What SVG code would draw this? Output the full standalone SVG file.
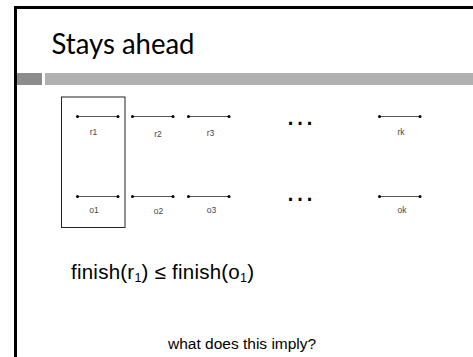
<svg xmlns="http://www.w3.org/2000/svg" width="473" height="357" viewBox="0 0 473 357">
  <style>
    .frame { fill: none; stroke: #000; stroke-width: 3; }
    .seg { stroke: #555; stroke-width: 1; }
    .dot { fill: #000; }
    .lbl { font-family: "Liberation Sans", Arial, sans-serif; font-size: 8.5px; fill: #444; text-anchor: middle; }
    .ell { font-family: "Liberation Sans", Arial, sans-serif; font-size: 30px; fill: #000; text-anchor: middle; }
    .body { font-family: "Liberation Sans", Arial, sans-serif; fill: #000; }
  </style>
  <defs>
    <g id="interval">
      <line class="seg" x1="0" y1="0" x2="40.5" y2="0"/>
      <circle class="dot" cx="0" cy="0" r="1.5"/>
      <circle class="dot" cx="40.5" cy="0" r="1.5"/>
    </g>
  </defs>
  <rect width="473" height="357" fill="#fff"/>

  <!-- slide frame and header bars -->
  <path class="frame" d="M15.5,357 V7.5 H473"/>
  <rect x="17" y="73" width="25" height="12" fill="#8c8c8c"/>
  <rect x="45" y="73" width="428" height="12" fill="#b0b0b0"/>
  <text x="51.5" y="53.5" font-family="Lato, sans-serif" font-size="28" textLength="143" lengthAdjust="spacingAndGlyphs" fill="#000">Stays ahead</text>

  <!-- highlight around the first pair -->
  <g id="pair-box">
    <rect x="61.5" y="97" width="63.5" height="130.5" fill="none" stroke="#222" stroke-width="1"/>
  </g>

  <g id="connectors">
    <use href="#interval" x="77.5" y="116.5"/>
    <use href="#interval" x="132.5" y="116.5"/>
    <use href="#interval" x="188.5" y="116.5"/>
    <use href="#interval" x="379.5" y="116.5"/>
    <use href="#interval" x="77.5" y="196.5"/>
    <use href="#interval" x="132.5" y="196.5"/>
    <use href="#interval" x="188.5" y="196.5"/>
    <use href="#interval" x="379.5" y="196.5"/>
  </g>

  <g id="r1"><text class="lbl" x="93.5" y="135">r1</text></g>
  <g id="r2"><text class="lbl" x="158" y="136.5">r2</text></g>
  <g id="r3"><text class="lbl" x="210.5" y="135.5">r3</text></g>
  <g id="rk"><text class="lbl" x="401" y="135">rk</text></g>
  <g id="o1"><text class="lbl" x="94" y="213">o1</text></g>
  <g id="o2"><text class="lbl" x="158.5" y="214">o2</text></g>
  <g id="o3"><text class="lbl" x="211.5" y="213">o3</text></g>
  <g id="ok"><text class="lbl" x="402" y="213">ok</text></g>

  <text class="ell" x="300" y="125">…</text>
  <text class="ell" x="300" y="200.5">…</text>

  <text class="body" x="71" y="278.5" font-size="20.5" textLength="183" lengthAdjust="spacing">finish(r<tspan font-size="12.5" dy="3.5">1</tspan><tspan dy="-3.5">) ≤ finish(o</tspan><tspan font-size="12.5" dy="3.5">1</tspan><tspan dy="-3.5">)</tspan></text>
  <text class="body" x="168" y="349" font-size="15.5">what does this imply?</text>
</svg>
